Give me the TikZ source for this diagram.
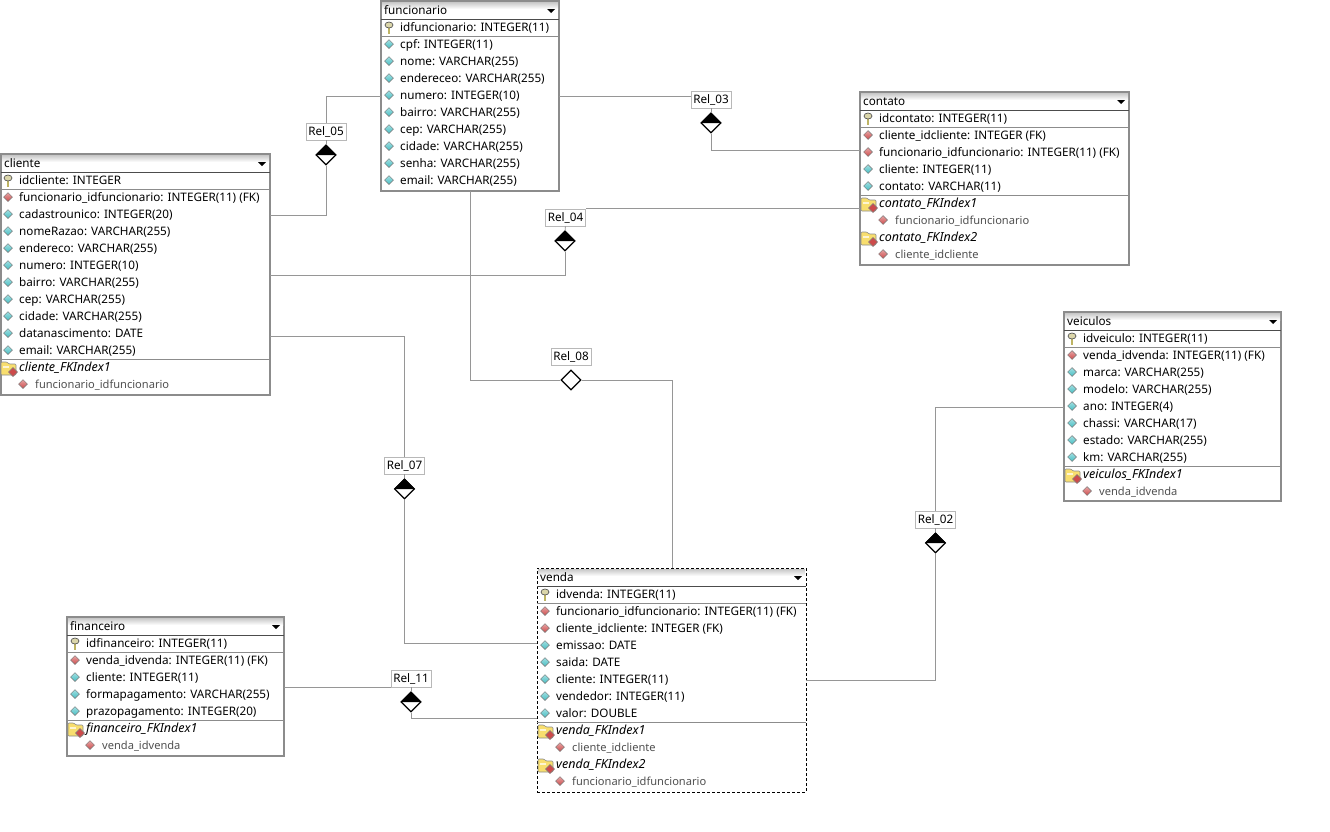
\documentclass[tikz,border=0pt]{standalone}
\usepackage{fontspec}
\setmainfont{Noto Sans}
\usepackage{tikz}
\usetikzlibrary{calc,shapes.geometric}
\definecolor{colteal}{RGB}{70,190,195}
\definecolor{colred}{RGB}{205,75,75}
\definecolor{boxgray}{RGB}{140,140,140}
\definecolor{linegray}{RGB}{150,150,150}
\definecolor{idxgray}{RGB}{80,80,80}
\definecolor{foldery}{RGB}{248,222,110}
\definecolor{keygold}{RGB}{190,180,100}

\tikzset{
  tabbox/.style={draw=boxgray,line width=1.9pt,fill=white,rectangle,anchor=north west,inner sep=0pt,outer sep=0pt},
  selbox/.style={draw=black,dash pattern=on 3pt off 2pt,line width=1pt,fill=white,rectangle,anchor=north west,inner sep=0pt,outer sep=0pt},
  rowtext/.style={anchor=west,inner sep=0pt,text height=9pt,text depth=3pt,font=\fontsize{11.7}{13}\selectfont},
  icon/.style={diamond,draw=black!55,top color=#1!50!white,bottom color=#1,line width=0.5pt,minimum size=9pt,inner sep=0pt},
  relname/.style={draw=black!28,fill=white,line width=0.9pt,inner sep=0pt,minimum width=40pt,minimum height=17pt,font=\fontsize{11.7}{13}\selectfont},
  reldia/.style={diamond,draw=black,fill=white,line width=1.2pt,minimum size=20pt,inner sep=0pt},
  rellink/.style={draw=linegray,line width=0.9pt},
  sepline/.style={draw=black!45,line width=0.7pt}
}

% box with title band
\newcommand{\enttab}[7][tabbox]{
  \node[#1,minimum width=#5pt,minimum height=#6pt] (#2) at (#3,#4) {};
  \shade[top color=black!22,bottom color=white] ({#3+1},{#4+1}) rectangle ({#3+#5-1},{#4+8});
  \node[rowtext] (#2-title) at ({#3+3},{#4+10}) {#7};
  \fill ({#3+#5-12},{#4+8}) -- ++(8,0) -- ++(-4,4) -- cycle;
  \draw[sepline,black!70] (#3,{#4+18}) -- ({#3+#5},{#4+18});
  % primary key row separator
  \draw[sepline] (#3,{#4+35}) -- ({#3+#5},{#4+35});
}
% key icon
\newcommand{\keyicon}[2]{
  \draw[black!70,line width=2.2pt] (#1,{#2-1}) -- ++(0,7);
  \draw[keygold,line width=1.1pt] (#1,{#2-1}) -- ++(0,7);
  \filldraw[fill=keygold!55!white,draw=black!65,line width=0.7pt] (#1,{#2-3}) ellipse (4pt and 3pt);
}
% folder with a red mark
\newcommand{\foldericon}[2]{
  \filldraw[fill=foldery,draw=black!45,line width=0.6pt,rounded corners=1pt] (#1,{#2-5}) -- ++(6,0) -- ++(2,2) -- ++(7,0) -- ++(0,11) -- ++(-15,0) -- cycle;
  \fill[white!70!foldery] ({#1+1.5},{#2-1}) rectangle ({#1+8},{#2+1});
  \filldraw[fill=colred,draw=black!50,line width=0.4pt] ({#1+12},{#2+0.5}) -- ++(4.5,4.5) -- ++(-4.5,4.5) -- ++(-4.5,-4.5) -- cycle;
}
% key row, then the column rows
\newcommand{\colrows}[4]{
  \keyicon{#2+8}{#3+1}
  \foreach \t/\c [count=\i] in {#4}{
    \ifnum\i=1
      \node[rowtext] (#1-\i) at ({#2+19},{#3+1}) {\t};
    \else
      \node[icon=\c] (#1-\i-ic) at ({#2+8},{#3+17*(\i-1)}) {};
      \node[rowtext] (#1-\i) at ({#2+19},{#3+1+17*(\i-1)}) {\t};
    \fi
  }
}
% index header and its field
\newcommand{\idxrows}[5]{
  \foldericon{#2+1}{#3}
  \node[rowtext,font=\fontsize{12.5}{13}\selectfont\itshape] (#1-idx) at ({#2+19},{#3+1}) {#4};
  \node[icon=colred] (#1-fld-ic) at ({#2+23},{#3+17}) {};
  \node[rowtext,text=idxgray,font=\fontsize{11.1}{13}\selectfont] (#1-fld) at ({#2+35},{#3+18}) {#5};
}

\begin{document}
\begin{tikzpicture}[x=1pt,y=-1pt]
  \useasboundingbox (0,0) rectangle (1330,831);

  % Funcionario
  \enttab{funcionario}{381}{1}{178}{190}{funcionario}
  \colrows{funcionario}{381}{27}{idfuncionario: INTEGER(11)/colteal,cpf: INTEGER(11)/colteal,nome: VARCHAR(255)/colteal,endereceo: VARCHAR(255)/colteal,numero: INTEGER(10)/colteal,bairro: VARCHAR(255)/colteal,cep: VARCHAR(255)/colteal,cidade: VARCHAR(255)/colteal,senha: VARCHAR(255)/colteal,email: VARCHAR(255)/colteal}

  % Cliente
  \enttab{cliente}{1}{154}{269}{241}{cliente}
  \colrows{cliente}{0}{180}{idcliente: INTEGER/colteal,funcionario\_idfuncionario: INTEGER(11) (FK)/colred,cadastrounico: INTEGER(20)/colteal,nomeRazao: VARCHAR(255)/colteal,endereco: VARCHAR(255)/colteal,numero: INTEGER(10)/colteal,bairro: VARCHAR(255)/colteal,cep: VARCHAR(255)/colteal,cidade: VARCHAR(255)/colteal,datanascimento: DATE/colteal,email: VARCHAR(255)/colteal}
  \draw[sepline] (1,359) -- (270,359);
  \idxrows{cliente}{0}{367}{cliente\_FKIndex1}{funcionario\_idfuncionario}

  % Contato
  \enttab{contato}{860}{92}{269}{173}{contato}
  \colrows{contato}{860}{118}{idcontato: INTEGER(11)/colteal,cliente\_idcliente: INTEGER (FK)/colred,funcionario\_idfuncionario: INTEGER(11) (FK)/colred,cliente: INTEGER(11)/colteal,contato: VARCHAR(11)/colteal}
  \draw[sepline] (860,195) -- (1129,195);
  \idxrows{contato}{860}{203}{contato\_FKIndex1}{funcionario\_idfuncionario}
  \idxrows{contato2}{860}{237}{contato\_FKIndex2}{cliente\_idcliente}

  % Veiculos
  \enttab{veiculos}{1064}{312}{217}{189}{veiculos}
  \colrows{veiculos}{1064}{338}{idveiculo: INTEGER(11)/colteal,venda\_idvenda: INTEGER(11) (FK)/colred,marca: VARCHAR(255)/colteal,modelo: VARCHAR(255)/colteal,ano: INTEGER(4)/colteal,chassi: VARCHAR(17)/colteal,estado: VARCHAR(255)/colteal,km: VARCHAR(255)/colteal}
  \draw[sepline] (1064,466) -- (1281,466);
  \idxrows{veiculos}{1064}{474}{veiculos\_FKIndex1}{venda\_idvenda}

  % Venda
  \enttab[selbox]{venda}{537}{568}{269}{224}{venda}
  \colrows{venda}{537}{594}{idvenda: INTEGER(11)/colteal,funcionario\_idfuncionario: INTEGER(11) (FK)/colred,cliente\_idcliente: INTEGER (FK)/colred,emissao: DATE/colteal,saida: DATE/colteal,cliente: INTEGER(11)/colteal,vendedor: INTEGER(11)/colteal,valor: DOUBLE/colteal}
  \draw[sepline] (537,722) -- (806,722);
  \idxrows{venda}{537}{730}{venda\_FKIndex1}{cliente\_idcliente}
  \idxrows{venda2}{537}{764}{venda\_FKIndex2}{funcionario\_idfuncionario}

  % Financeiro
  \enttab{financeiro}{67}{617}{217}{139}{financeiro}
  \colrows{financeiro}{67}{643}{idfinanceiro: INTEGER(11)/colteal,venda\_idvenda: INTEGER(11) (FK)/colred,cliente: INTEGER(11)/colteal,formapagamento: VARCHAR(255)/colteal,prazopagamento: INTEGER(20)/colteal}
  \draw[sepline] (67,720) -- (284,720);
  \idxrows{financeiro}{67}{728}{financeiro\_FKIndex1}{venda\_idvenda}

  % Relation names
  \node[relname] (rel05) at (326,131.5) {Rel\_05};
  \node[relname] (rel03) at (711,99.5) {Rel\_03};
  \node[relname] (rel04) at (565.5,217.5) {Rel\_04};
  \node[relname] (rel08) at (571,356.5) {Rel\_08};
  \node[relname] (rel07) at (404.5,465.5) {Rel\_07};
  \node[relname] (rel02) at (935.5,519.5) {Rel\_02};
  \node[relname] (rel11) at (411,678.5) {Rel\_11};

  % Relation marks
  \node[reldia] (dia05) at (326,155) {};
  \node[reldia] (dia03) at (711,123) {};
  \node[reldia] (dia04) at (565,241) {};
  \node[reldia] (dia08) at (571,380) {};
  \node[reldia] (dia07) at (404.5,489) {};
  \node[reldia] (dia02) at (935.5,543) {};
  \node[reldia] (dia11) at (411,702) {};
  \foreach \d in {dia05,dia03,dia04,dia07,dia02,dia11}
    \fill (\d.west) -- (\d.north) -- (\d.east) -- cycle;

  % Free ends on the boxes
  \coordinate (cliente-out) at (cliente.east |- 0,336);
  \coordinate (contato-in) at (contato.west |- 0,150);
  \coordinate (venda-in) at (venda.west |- 0,643);
  \coordinate (venda-top) at (672,568);
  \coordinate (venda-fin) at (venda.west |- 0,718);
  \coordinate (venda-vei) at (venda.east |- 0,680);

  % Rel_05
  \draw[rellink] (funcionario.west |- funcionario-5) -| (rel05);
  \draw[rellink] (rel05) -- (dia05);
  \draw[rellink] (dia05) |- (cliente.east |- cliente-3);
  % Rel_03
  \draw[rellink] (funcionario.east |- funcionario-5) -- (rel03.west |- funcionario-5);
  \draw[rellink] (rel03) -- (dia03);
  \draw[rellink] (dia03) |- (contato-in);
  % Rel_04
  \draw[rellink] (contato.west |- rel04.north) -- (rel04.north east);
  \draw[rellink] (rel04) -- (dia04);
  \draw[rellink] (dia04) |- (cliente.east |- 0,275);
  % Rel_08
  \draw[rellink] (funcionario.south) |- (dia08);
  \draw[rellink] (dia08) -| (venda-top);
  % Rel_07
  \draw[rellink] (cliente-out) -| (rel07);
  \draw[rellink] (rel07) -- (dia07);
  \draw[rellink] (dia07) |- (venda-in);
  % Rel_02
  \draw[rellink] (veiculos.west |- veiculos-5) -| (rel02);
  \draw[rellink] (rel02) -- (dia02);
  \draw[rellink] (dia02) |- (venda-vei);
  % Rel_11
  \draw[rellink] (financeiro.east |- rel11.south west) -- (rel11.south west);
  \draw[rellink] (rel11) -- (dia11);
  \draw[rellink] (dia11) |- (venda-fin);
\end{tikzpicture}
\end{document}
